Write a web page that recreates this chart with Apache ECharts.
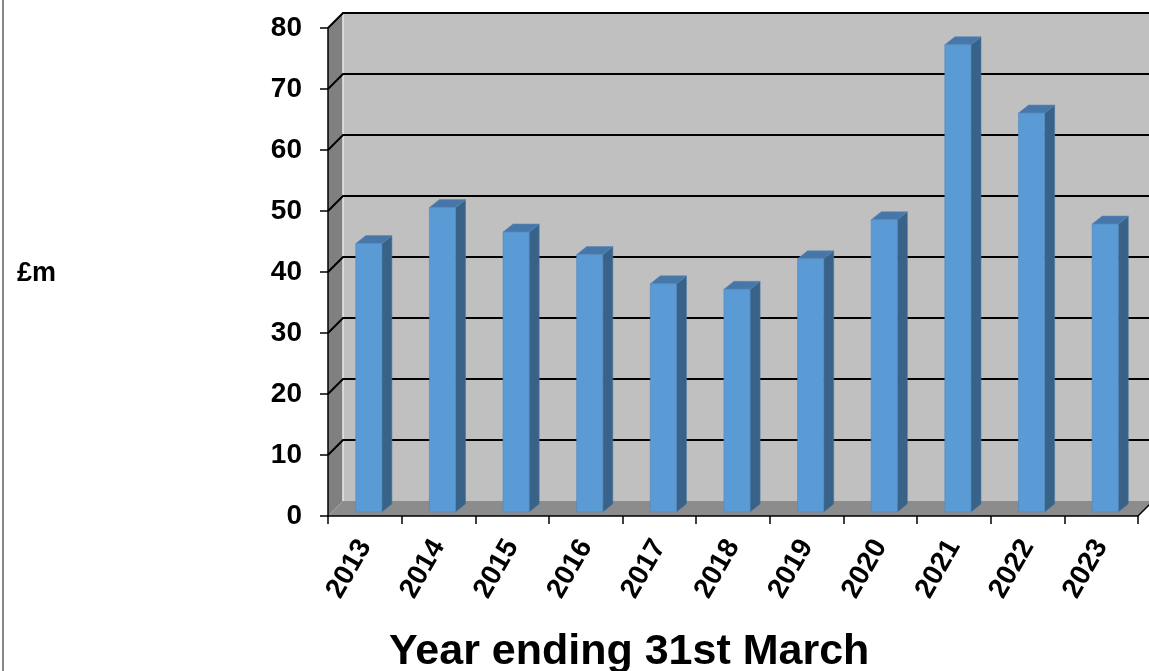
<!DOCTYPE html>
<html>
<head>
<meta charset="utf-8">
<script src="https://cdn.jsdelivr.net/npm/echarts@6/dist/echarts.min.js"></script>
<style>
  html, body { margin: 0; padding: 0; background: #fff; }
  #chart { width: 1149px; height: 671px; }
</style>
</head>
<body>
<div id="chart"></div>
<script>
// years (x categories) and spend in £m
const years = ['2013', '2014', '2015', '2016', '2017', '2018', '2019', '2020', '2021', '2022', '2023'];
const values = [44.0, 49.9, 45.9, 42.2, 37.4, 36.5, 41.5, 47.9, 76.6, 65.4, 47.2];
const yTicks = [0, 10, 20, 30, 40, 50, 60, 70, 80];

const DEPTH = 15;   // offset of the back wall
const BAR_OFF = 4;  // bars sit a little behind the front edge
const BAR_DX = 10, BAR_DY = 8;

let myChart = echarts.init(document.getElementById('chart'));

// walls, floor and gridlines
function renderWalls(params, api) {
  let cs = params.coordSys;
  let x0 = cs.x, x1 = cs.x + cs.width;
  let yb = cs.y + cs.height, yt = cs.y;
  let v = api.value(0);
  let y = api.coord([0, v])[1];
  let children = [];
  if (params.dataIndex === 0) {
    children.push({
      type: 'polygon',
      shape: {points: [[x0, yb], [x0, yt], [x0 + DEPTH, yt - DEPTH], [x0 + DEPTH, yb - DEPTH]]},
      style: {fill: '#808080'}
    });
    children.push({
      type: 'rect',
      shape: {x: x0 + DEPTH, y: yt - DEPTH, width: cs.width, height: cs.height},
      style: {fill: '#c0c0c0'}
    });
    children.push({
      type: 'polygon',
      shape: {points: [[x0, yb], [x1, yb], [x1 + DEPTH, yb - DEPTH], [x0 + DEPTH, yb - DEPTH]]},
      style: {fill: '#8c8c8c'}
    });
    children.push({
      type: 'line',
      shape: {x1: x0 + DEPTH, y1: yt - DEPTH, x2: x0 + DEPTH, y2: yb - DEPTH},
      style: {stroke: '#e8e8e8', lineWidth: 1.5}
    });
    children.push({
      type: 'line',
      shape: {x1: x1, y1: yb, x2: x1 + DEPTH, y2: yb - DEPTH},
      style: {stroke: '#000', lineWidth: 1.5}
    });
  } else {
    children.push({
      type: 'polyline',
      shape: {points: [[x0, y], [x0 + DEPTH, y - DEPTH], [x1 + DEPTH, y - DEPTH]]},
      style: {stroke: '#000', lineWidth: 2, fill: null}
    });
  }
  return {type: 'group', children: children};
}

// 3d looking columns
function renderBar(params, api) {
  let idx = api.value(0);
  let base = api.coord([idx, 0]);
  let top = api.coord([idx, api.value(1)]);
  let w = api.size([1, 0])[0] * 0.355;
  let cx = base[0] + BAR_OFF;
  let l = cx - w / 2, r = cx + w / 2;
  let yb = base[1] - BAR_OFF, yt = top[1] - BAR_OFF;
  return {
    type: 'group',
    children: [{
      type: 'polygon',
      shape: {points: [[r, yt], [r + BAR_DX, yt - BAR_DY], [r + BAR_DX, yb - BAR_DY], [r, yb]]},
      style: {fill: '#386287', stroke: '#4a78a3', lineWidth: 0.6}
    }, {
      type: 'polygon',
      shape: {points: [[l, yt], [r, yt], [r + BAR_DX, yt - BAR_DY], [l + BAR_DX, yt - BAR_DY]]},
      style: {fill: '#4677a8', stroke: '#5a88b8', lineWidth: 0.6}
    }, {
      type: 'rect',
      shape: {x: l, y: yt, width: w, height: yb - yt},
      style: {fill: '#5b9bd5', stroke: '#4f88bd', lineWidth: 0.6}
    }]
  };
}

let option = {
  animation: false,
  textStyle: {fontFamily: 'Liberation Sans, Arial, sans-serif'},
  title: [{
    text: 'Year ending 31st March',
    left: 384,
    top: 626,
    textStyle: {fontSize: 43, fontWeight: 'bold', color: '#000'}
  }, {
    text: '£m',
    left: 12,
    top: 255,
    textStyle: {fontSize: 27, fontWeight: 'bold', color: '#000'}
  }],
  grid: {left: 328, top: 28, width: 810, height: 488},
  xAxis: {
    type: 'category',
    data: years,
    z: 10,
    axisLine: {lineStyle: {color: '#000', width: 1.5}},
    axisTick: {show: true, length: 8, lineStyle: {color: '#000', width: 1.5}},
    axisLabel: {
      rotate: 60,
      margin: 26,
      fontSize: 28,
      fontWeight: 'bold',
      color: '#000',
      interval: 0
    },
    splitLine: {show: false}
  },
  yAxis: {
    type: 'value',
    min: 0,
    max: 80,
    interval: 10,
    z: 10,
    axisLine: {show: true, lineStyle: {color: '#000', width: 1.5}},
    axisTick: {show: true, length: 8, lineStyle: {color: '#000', width: 1.5}},
    axisLabel: {fontSize: 28, fontWeight: 'bold', color: '#000', margin: 26},
    splitLine: {show: false}
  },
  graphic: [{
    type: 'line',
    shape: {x1: 3, y1: 0, x2: 3, y2: 671},
    style: {stroke: '#888', lineWidth: 2}
  }],
  series: [{
    type: 'custom',
    name: 'walls',
    z: 1,
    silent: true,
    renderItem: renderWalls,
    data: yTicks.map(v => [v])
  }, {
    type: 'custom',
    name: 'spend',
    z: 2,
    renderItem: renderBar,
    encode: {x: 0, y: 1},
    data: values.map((v, i) => [i, v])
  }]
};
myChart.setOption(option);
</script>
</body>
</html>
